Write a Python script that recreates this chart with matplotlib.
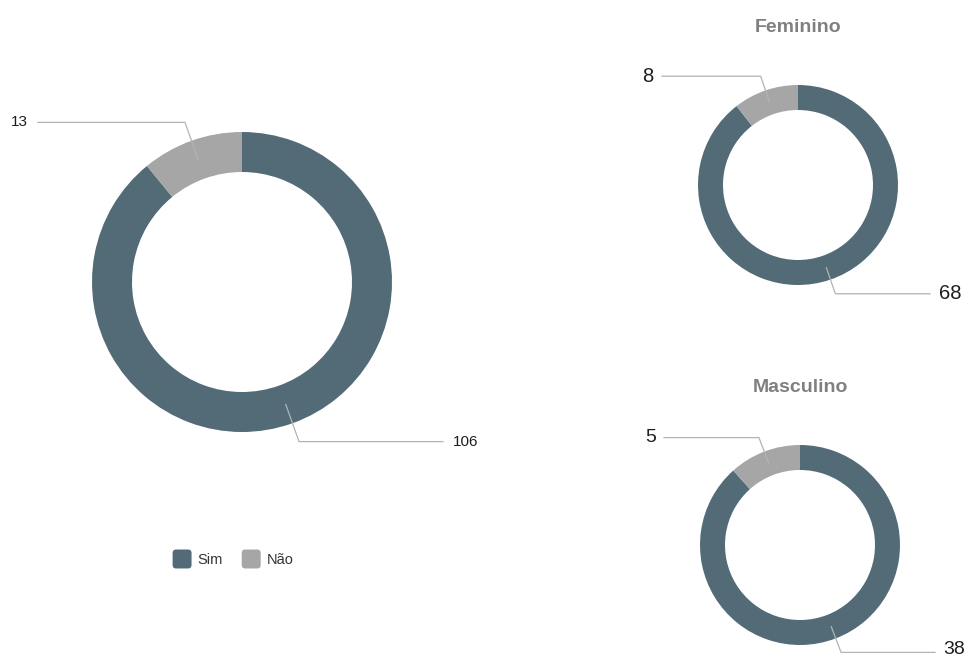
import numpy as np
import matplotlib
matplotlib.use("Agg")
import matplotlib.pyplot as plt
from matplotlib.patches import Patch, FancyBboxPatch
from matplotlib.legend_handler import HandlerPatch

plt.rcParams['font.family'] = ['Liberation Sans', 'DejaVu Sans']

categories = ["Sim", "Não"]
total_values = [106, 13]
feminino_values = [68, 8]
masculino_values = [38, 5]
panel_titles = ["Feminino", "Masculino"]

colors = ["#536b77", "#a6a6a6"]
line_color = "#b3b3b3"
W, H = 971, 659

fig = plt.figure(figsize=(W / 100, H / 100), dpi=100)
ax = fig.add_axes([0, 0, 1, 1])


def py(y):
    return H - y


def donut(values, cx, cy, r, width, label_left_x, label_right_x, fsize, elbow_k, gap):
    wedges, _ = ax.pie(values, colors=colors, startangle=90, counterclock=False,
                       radius=r, center=(cx, py(cy)),
                       wedgeprops=dict(width=width, edgecolor="none"),
                       frame=True)
    for w, v in zip(wedges, values):
        mid = np.deg2rad((w.theta1 + w.theta2) / 2)
        rm = r - width / 2
        x0 = cx + rm * np.cos(mid)
        y0 = py(cy) + rm * np.sin(mid)
        xe = cx + r * elbow_k * np.cos(mid)
        ye = py(cy) + r * elbow_k * np.sin(mid)
        left = np.cos(mid) < 0
        xend = label_left_x if left else label_right_x
        ax.plot([x0, xe, xend], [y0, ye, ye], color=line_color, lw=0.9,
                solid_joinstyle="round")
        ty = max(ye, 9)
        if left:
            ax.text(xend - gap, ty, str(v), ha="right", va="center",
                    fontsize=fsize, color="#1e1e1e")
        else:
            ax.text(xend + gap, ty, str(v), ha="left", va="center",
                    fontsize=fsize, color="#1e1e1e")


# overall donut
donut(total_values, 242, 282, 150, 40, 38, 443, 11, 1.13, 10)

# gender donuts
donut(feminino_values, 798, 185, 100, 25, 662, 930, 14.5, 1.15, 9)
donut(masculino_values, 800, 545, 100, 25, 664, 935, 14, 1.15, 8)

ax.set_xlim(0, W)
ax.set_ylim(0, H)
ax.set_aspect("equal")
ax.axis("off")

ax.text(798, py(28), panel_titles[0], ha="center", va="center",
        fontsize=14, fontweight="bold", color="#808080")
ax.text(800, py(388), panel_titles[1], ha="center", va="center",
        fontsize=14, fontweight="bold", color="#808080")


class RoundedSquare(HandlerPatch):
    def create_artists(self, legend, orig_handle, xdescent, ydescent,
                       width, height, fontsize, trans):
        s = min(width, height)
        x0 = -xdescent + (width - s) / 2
        y0 = -ydescent + (height - s) / 2
        p = FancyBboxPatch((x0, y0), s, s,
                           boxstyle="round,pad=0,rounding_size=2.5",
                           facecolor=orig_handle.get_facecolor(),
                           edgecolor="none", transform=trans)
        return [p]


handles = [Patch(facecolor=c, edgecolor="none", label=l) for c, l in zip(colors, categories)]
fig.legend(handles=handles, loc="center", bbox_to_anchor=(233 / W, 1 - 559 / H),
           ncol=2, frameon=False, fontsize=10.5, handlelength=1.3, handleheight=1.75,
           handletextpad=0.4, columnspacing=1.3, labelcolor="#333333",
           handler_map={Patch: RoundedSquare()})

fig.savefig("out.png", dpi=100, facecolor="white")
